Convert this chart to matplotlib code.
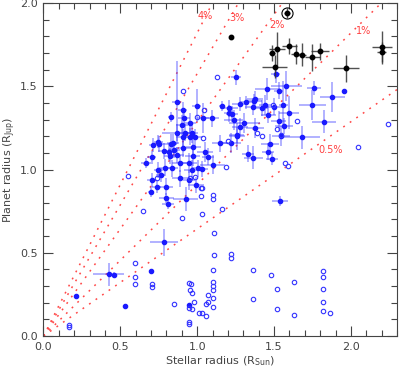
import matplotlib
matplotlib.use("Agg")
import matplotlib.pyplot as plt
import numpy as np
from matplotlib.ticker import MultipleLocator

# transit depth guide lines (fraction of stellar disk)
depths = [0.04, 0.03, 0.02, 0.01, 0.005]
depth_labels = ["4%", "3%", "2%", "1%", "0.5%"]
label_x = [1.05, 1.26, 1.52, 2.08, 1.87]
label_y = [1.92, 1.91, 1.87, 1.83, 1.12]
rsun_rjup = 9.1  # scale used for the guide lines

# black points (giant hosts)
black_x = [1.583, 1.22, 1.484, 1.52, 1.60, 1.504, 1.64, 1.68, 1.75, 1.80, 1.967, 2.204, 2.20]
black_y = [1.938, 1.794, 1.70, 1.724, 1.742, 1.617, 1.692, 1.69, 1.674, 1.71, 1.608, 1.734, 1.704]
black_xerr = [0.02, 0.0, 0.02, 0.05, 0.05, 0.08, 0.03, 0.03, 0.05, 0.06, 0.085, 0.065, 0.03]
black_yerr = [0.03, 0.0, 0.05, 0.10, 0.05, 0.07, 0.06, 0.07, 0.08, 0.05, 0.08, 0.10, 0.06]

# blue filled points with errors
blue_x = [1.252, 1.956, 1.88, 1.76, 1.75, 1.60, 1.56, 1.58, 1.53, 1.512, 1.456, 1.44, 1.462,
          1.42, 1.37, 1.36, 1.278, 1.208, 1.306, 1.226, 1.159, 1.53, 1.564, 1.679, 1.824,
          1.473, 1.462, 1.488, 1.332, 1.258, 1.222, 1.033, 1.10, 1.538, 1.206, 1.32, 1.50,
          1.376, 1.237, 1.148, 1.256, 1.365, 1.545, 1.376, 1.278, 1.05, 1.072,
          0.866, 0.996, 0.905, 0.828, 0.914, 0.953, 1.04, 1.094, 0.899, 0.870, 0.92, 0.964,
          0.844, 0.905, 0.987, 0.714, 0.753, 0.829, 0.818, 0.849, 0.909, 0.974, 0.823, 0.866,
          0.970, 0.704, 0.667, 0.747, 0.79, 0.834, 0.888, 0.948, 0.964, 1.003, 0.704, 0.888,
          0.946, 0.992, 0.80, 0.736, 0.762, 0.697, 0.784, 0.953, 0.747,
          0.80, 0.808, 0.925, 0.786, 0.424, 0.459, 0.697, 0.211, 0.53, 0.944]
blue_y = [1.554, 1.471, 1.434, 1.49, 1.39, 1.341, 1.39, 1.50, 1.473, 1.574, 1.485, 1.387, 1.33,
          1.37, 1.413, 1.377, 1.393, 1.367, 1.281, 1.333, 1.381, 1.293, 1.261, 1.193, 1.287,
          1.151, 1.107, 1.065, 1.095, 1.20, 1.157, 1.003, 1.03, 0.811, 1.337, 1.403, 1.377,
          1.421, 1.297, 1.157, 1.207, 1.071, 1.201, 1.247, 1.257, 1.107, 1.077,
          1.403, 1.384, 1.357, 1.313, 1.311, 1.281, 1.307, 1.307, 1.267, 1.221, 1.221, 1.217,
          1.161, 1.193, 1.193, 1.147, 1.153, 1.153, 1.107, 1.117, 1.127, 1.137, 1.081, 1.087,
          1.081, 1.073, 1.037, 0.997, 1.011, 1.007, 1.037, 1.037, 0.997, 1.007, 0.937, 0.947,
          0.937, 0.907, 0.897, 0.897, 0.967, 0.867, 1.111, 1.197, 1.167,
          0.827, 0.791, 0.823, 0.563, 0.37, 0.366, 0.392, 0.24, 0.18, 0.186]
blue_xerr = [0.03, 0.01, 0.08, 0.045, 0.09, 0.065, 0.03, 0.10, 0.03, 0.03, 0.08, 0.04, 0.05,
             0.04, 0.05, 0.05, 0.05, 0.06, 0.10, 0.04, 0.02, 0.05, 0.06, 0.12, 0.08,
             0.06, 0.04, 0.04, 0.04, 0.05, 0.06, 0.04, 0.08, 0.05, 0.03, 0.04, 0.05,
             0.05, 0.06, 0.05, 0.05, 0.06, 0.06, 0.06, 0.05, 0.05, 0.04,
             0.03, 0.03, 0.03, 0.02, 0.04, 0.04, 0.04, 0.05, 0.04, 0.10, 0.05, 0.04,
             0.04, 0.04, 0.05, 0.03, 0.04, 0.04, 0.04, 0.04, 0.05, 0.05, 0.04, 0.05,
             0.05, 0.03, 0.03, 0.03, 0.04, 0.04, 0.05, 0.05, 0.05, 0.04, 0.03, 0.05,
             0.04, 0.05, 0.04, 0.03, 0.03, 0.02, 0.04, 0.04, 0.03,
             0.05, 0.04, 0.08, 0.09, 0.10, 0.02, 0.0, 0.0, 0.0, 0.0]
blue_yerr = [0.045, 0.01, 0.09, 0.04, 0.09, 0.10, 0.14, 0.09, 0.05, 0.055, 0.065, 0.06, 0.05,
             0.05, 0.04, 0.05, 0.04, 0.05, 0.06, 0.05, 0.03, 0.06, 0.05, 0.07, 0.07,
             0.06, 0.05, 0.04, 0.05, 0.08, 0.06, 0.05, 0.06, 0.03, 0.05, 0.04, 0.05,
             0.05, 0.06, 0.05, 0.05, 0.07, 0.06, 0.06, 0.05, 0.06, 0.05,
             0.25, 0.10, 0.05, 0.03, 0.05, 0.06, 0.09, 0.05, 0.06, 0.05, 0.05, 0.06,
             0.05, 0.05, 0.05, 0.04, 0.05, 0.06, 0.05, 0.05, 0.05, 0.06, 0.05, 0.05,
             0.06, 0.04, 0.03, 0.05, 0.05, 0.05, 0.05, 0.06, 0.06, 0.05, 0.04, 0.05,
             0.06, 0.05, 0.05, 0.04, 0.04, 0.03, 0.05, 0.05, 0.04,
             0.03, 0.03, 0.07, 0.08, 0.07, 0.02, 0.0, 0.0, 0.0, 0.0]

# open circles (no error bars)
open_x = [1.13, 1.046, 1.65, 1.52, 1.545, 1.387, 1.42, 2.239, 2.047, 1.573, 1.592, 1.033,
          0.905, 1.0, 1.198, 1.19, 1.495, 1.04, 0.953, 0.985, 1.024,
          0.548, 0.74, 0.649, 0.899, 1.022,
          1.105, 1.105, 1.029, 1.163, 1.107, 1.107, 1.22, 1.22, 1.10, 1.36, 1.48, 1.627, 1.52,
          1.82, 1.82, 1.82, 1.82, 1.82, 1.861, 1.52, 1.627, 1.36, 1.10, 1.10, 1.10, 1.10, 1.10,
          1.072, 1.072, 1.055, 1.029, 1.055,
          0.593, 0.593, 0.593, 0.704, 0.704, 0.168, 0.168, 0.851, 0.948, 0.957, 0.953, 0.964,
          0.981, 0.944, 0.964, 0.944, 0.944, 1.013]
open_y = [1.554, 1.356, 1.293, 1.241, 1.207, 1.221, 1.201, 1.271, 1.137, 1.037, 1.021, 0.887,
          1.473, 1.313, 1.171, 1.017, 1.387, 1.187, 0.951, 0.957, 0.891,
          0.961, 0.947, 0.753, 0.711, 0.841,
          0.847, 0.823, 0.731, 0.763, 0.62, 0.486, 0.49, 0.466, 0.396, 0.396, 0.364, 0.324, 0.284,
          0.392, 0.354, 0.28, 0.206, 0.15, 0.14, 0.164, 0.126, 0.224, 0.324, 0.302, 0.276, 0.23, 0.172,
          0.244, 0.204, 0.194, 0.14, 0.12,
          0.437, 0.357, 0.312, 0.31, 0.294, 0.066, 0.052, 0.192, 0.316, 0.31, 0.276, 0.256,
          0.206, 0.166, 0.16, 0.086, 0.072, 0.14]

fig = plt.figure(figsize=(3.99, 3.75), dpi=100)
ax = fig.add_axes([0.109, 0.104, 0.886, 0.888])

xline = np.linspace(0, 2.3, 200)
for d in depths:
    ax.plot(xline, np.sqrt(d) * rsun_rjup * xline, color="#ff4848",
            linestyle=(0, (1.2, 4)), lw=1.1, zorder=1)
for lab, lx, ly in zip(depth_labels, label_x, label_y):
    ax.text(lx, ly, lab, color="#ff4040", fontsize=7, ha="center", va="center")

ax.errorbar(blue_x, blue_y, xerr=blue_xerr, yerr=blue_yerr, fmt="none",
            ecolor="#3a3aff", alpha=0.5, elinewidth=1.1, zorder=2)
ax.plot(blue_x, blue_y, "o", color="#1a1aff", ms=3.0, mec="#1a1aff", zorder=3)
ax.plot(open_x, open_y, "o", mfc="none", mec="#3333ff", ms=3.2, mew=0.8, zorder=3)

ax.errorbar(black_x, black_y, xerr=black_xerr, yerr=black_yerr, fmt="none",
            ecolor="#333333", alpha=0.85, elinewidth=1.0, zorder=4)
ax.plot(black_x, black_y, "o", color="black", ms=3.2, zorder=5)
ax.plot(black_x[0], black_y[0], "o", mfc="none", mec="black", ms=8, mew=0.8, zorder=5)

ax.set_xlim(0, 2.3)
ax.set_ylim(0, 2.0)
ax.xaxis.set_major_locator(MultipleLocator(0.5))
ax.xaxis.set_minor_locator(MultipleLocator(0.1))
ax.yaxis.set_major_locator(MultipleLocator(0.5))
ax.yaxis.set_minor_locator(MultipleLocator(0.1))
ax.tick_params(which="both", direction="in", top=True, right=True,
               colors="#444444", labelsize=8, width=0.8)
ax.tick_params(which="major", length=7, pad=4)
ax.tick_params(which="minor", length=4)
ax.xaxis.set_major_formatter(plt.FormatStrFormatter("%.1f"))
ax.yaxis.set_major_formatter(plt.FormatStrFormatter("%.1f"))
for s in ax.spines.values():
    s.set_color("#444444")
    s.set_linewidth(0.8)

ax.set_xlabel("Stellar radius (R$_{\\rm Sun}$)", fontsize=8, color="#444444")
ax.set_ylabel("Planet radius (R$_{\\rm Jup}$)", fontsize=8, color="#444444")
ax.xaxis.set_label_coords(0.5, -0.055)
ax.yaxis.set_label_coords(-0.072, 0.5)

fig.savefig("out.png", dpi=100)
